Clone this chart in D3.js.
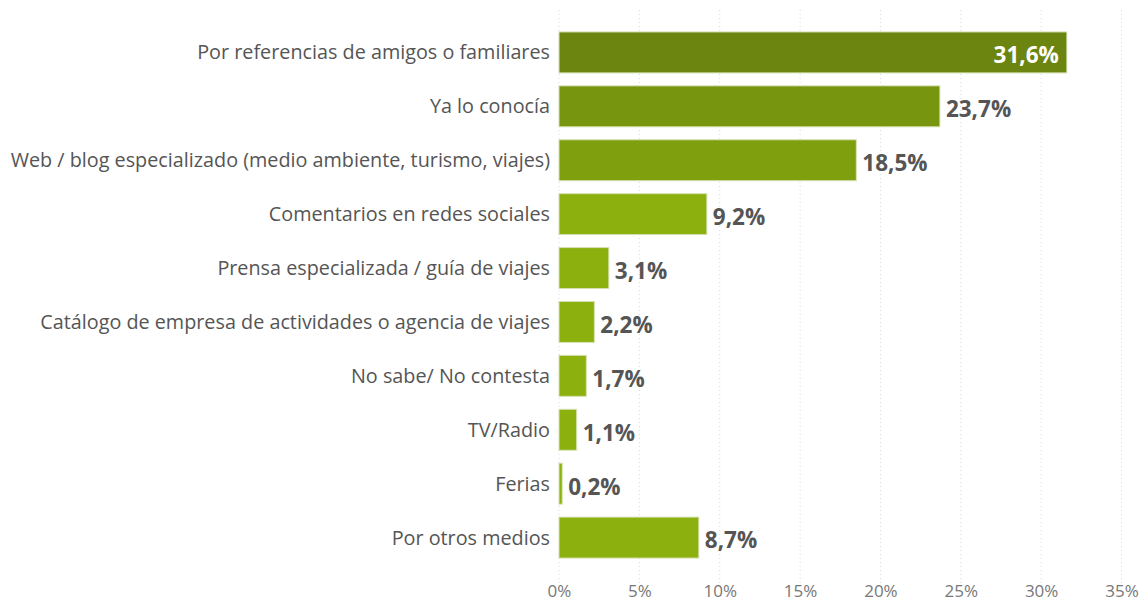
<!DOCTYPE html>
<html>
<head>
<meta charset="utf-8">
<script src="https://cdn.jsdelivr.net/npm/d3@7"></script>
<style>
  html, body { margin: 0; padding: 0; background: #fff; }
  #chart { width: 1140px; height: 603px; }
</style>
</head>
<body>
<div id="chart"></div>
<script>
const categories = [
  'Por referencias de amigos o familiares',
  'Ya lo conocía',
  'Web / blog especializado (medio ambiente, turismo, viajes)',
  'Comentarios en redes sociales',
  'Prensa especializada / guía de viajes',
  'Catálogo de empresa de actividades o agencia de viajes',
  'No sabe/ No contesta',
  'TV/Radio',
  'Ferias',
  'Por otros medios'
];
const values = [31.6, 23.7, 18.5, 9.2, 3.1, 2.2, 1.7, 1.1, 0.2, 8.7];
const tickValues = [0, 5, 10, 15, 20, 25, 30, 35];

const width = 1140;
const height = 603;
const margin = { top: 10, left: 559 };

const data = categories.map((c, i) => ({ cat: c, val: values[i] }));

const x = d3.scaleLinear()
  .domain([0, 35])
  .range([margin.left, 1121.5]);

const y = d3.scaleBand()
  .domain(categories)
  .range([19, 571])
  .padding(0.24);

// darker green for the bigger shares
const color = d3.scaleLinear()
  .domain([10, 31.6])
  .range(['#8cb00e', '#6b8510'])
  .clamp(true);

const fmt = v => d3.format('.1f')(v).replace('.', ',') + '%';

const svg = d3.select('#chart').append('svg')
  .attr('width', width)
  .attr('height', height)
  .style('font-family', '"Open Sans", "Noto Sans", sans-serif');

// dotted grid
svg.append('g')
  .selectAll('line')
  .data(tickValues)
  .enter()
  .append('line')
  .attr('x1', d => x(d))
  .attr('x2', d => x(d))
  .attr('y1', margin.top)
  .attr('y2', 584)
  .attr('stroke', '#d9d9d9')
  .attr('stroke-width', 1)
  .attr('stroke-dasharray', '1,3');

const xAxis = g => g
  .attr('transform', 'translate(0,597)')
  .call(d3.axisBottom(x)
    .tickValues(tickValues)
    .tickFormat(d => d + '%')
    .tickSizeInner(0)
    .tickSizeOuter(0)
    .tickPadding(0));

const axisG = svg.append('g').call(xAxis);
axisG.select('.domain').remove();
axisG.selectAll('text')
  .attr('dy', '0')
  .attr('fill', '#777')
  .style('font-size', '17px')
  .style('font-family', '"Open Sans", "Noto Sans", sans-serif');

// bars
svg.append('g')
  .selectAll('rect')
  .data(data)
  .enter()
  .append('rect')
  .attr('x', x(0))
  .attr('y', d => y(d.cat))
  .attr('width', d => Math.max(x(d.val) - x(0), 2))
  .attr('height', y.bandwidth())
  .attr('fill', d => color(d.val))
  .attr('stroke', '#d6e2b4')
  .attr('stroke-width', 1);

// category labels
svg.append('g')
  .selectAll('text')
  .data(data)
  .enter()
  .append('text')
  .attr('x', x(0) - 9)
  .attr('y', d => y(d.cat) + y.bandwidth() / 2)
  .attr('dy', '0.35em')
  .attr('text-anchor', 'end')
  .attr('fill', '#555')
  .style('font-size', '19.8px')
  .text(d => d.cat);

// value labels
const maxVal = d3.max(values);
svg.append('g')
  .selectAll('text')
  .data(data)
  .enter()
  .append('text')
  .attr('x', d => d.val === maxVal ? x(d.val) - 8 : x(d.val) + 6)
  .attr('y', d => y(d.cat) + y.bandwidth() / 2 + 3)
  .attr('dy', '0.35em')
  .attr('text-anchor', d => d.val === maxVal ? 'end' : 'start')
  .attr('fill', d => d.val === maxVal ? '#fff' : '#555')
  .style('font-size', '22.5px')
  .style('font-weight', 'bold')
  .text(d => fmt(d.val));
</script>
</body>
</html>
